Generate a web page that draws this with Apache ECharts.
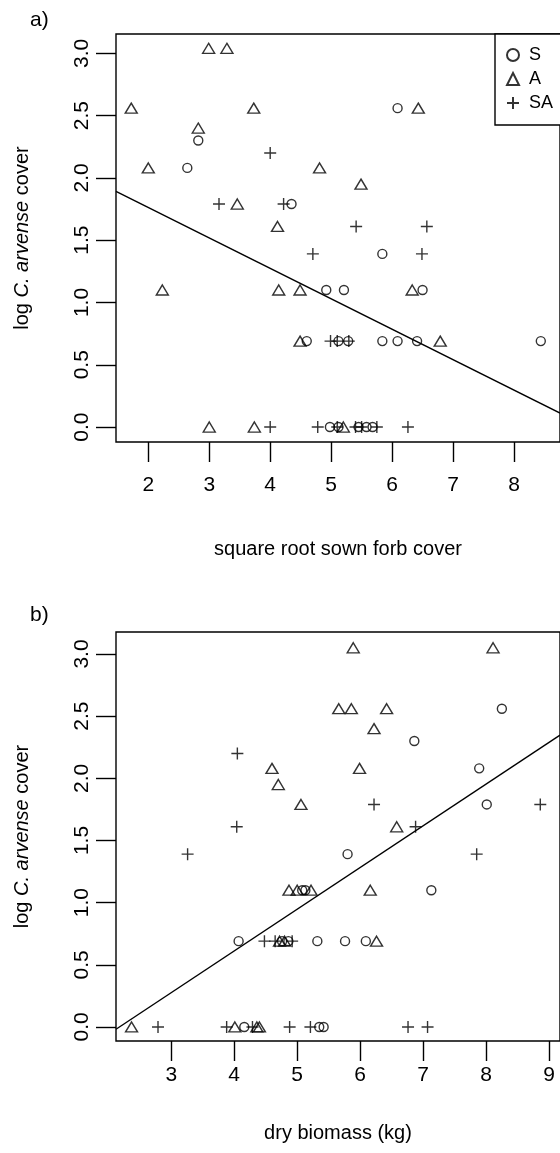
<!DOCTYPE html>
<html>
<head>
<meta charset="utf-8">
<script src="https://cdn.jsdelivr.net/npm/echarts@6/dist/echarts.min.js"></script>
<style>
html, body { margin: 0; padding: 0; background: #fff; }
#chart { width: 560px; height: 1153px; }
</style>
</head>
<body>
<div id="chart"></div>
<script>
// panel a: square root sown forb cover vs log C. arvense cover
const aS = [[2.82,2.30],[2.64,2.08],[4.35,1.79],[6.09,2.56],[5.84,1.39],[4.92,1.10],[5.21,1.10],[6.50,1.10],
  [4.60,0.69],[5.12,0.69],[5.28,0.69],[5.84,0.69],[6.09,0.69],[6.41,0.69],[8.44,0.69],
  [4.98,0],[5.12,0],[5.45,0],[5.58,0],[5.68,0]];
const aA = [[1.72,2.56],[2.99,3.04],[3.29,3.04],[3.73,2.56],[2.82,2.40],[2.00,2.08],[3.46,1.79],[2.23,1.10],
  [3.00,0],[3.74,0],[4.12,1.61],[4.14,1.10],[4.49,1.10],[4.81,2.08],[5.49,1.95],[6.43,2.56],[6.33,1.10],
  [4.49,0.69],[6.79,0.69],[5.20,0]];
const aSA = [[4.00,2.20],[3.16,1.79],[4.22,1.79],[5.41,1.61],[6.57,1.61],[4.70,1.39],[6.49,1.39],
  [4.99,0.69],[5.10,0.69],[5.29,0.69],[4.00,0],[4.78,0],[5.10,0],[5.40,0],[5.50,0],[5.75,0],[6.26,0]];
const fitA = [2.252, -0.2444]; // intercept, slope

// panel b: dry biomass (kg) vs log C. arvense cover
const bS = [[8.25,2.56],[6.86,2.30],[7.89,2.08],[8.01,1.79],[5.80,1.39],[7.13,1.10],[5.08,1.10],[5.13,1.10],
  [4.07,0.69],[4.76,0.69],[4.86,0.69],[5.32,0.69],[5.76,0.69],[6.09,0.69],[4.16,0],[5.35,0],[5.42,0]];
const bA = [[5.89,3.05],[8.11,3.05],[5.66,2.56],[5.86,2.56],[6.42,2.56],[6.22,2.40],[4.60,2.08],[5.99,2.08],
  [4.70,1.95],[5.06,1.79],[6.58,1.61],[6.16,1.10],[4.87,1.10],[5.00,1.10],[5.22,1.10],[4.72,0.69],
  [4.80,0.69],[6.26,0.69],[2.37,0],[4.01,0],[4.36,0],[4.40,0]];
const bSA = [[4.05,2.20],[6.22,1.79],[8.86,1.79],[4.04,1.61],[6.88,1.61],[3.26,1.39],[7.85,1.39],
  [4.48,0.69],[4.65,0.69],[4.92,0.69],[2.79,0],[3.88,0],[4.29,0],[4.88,0],[5.21,0],[6.76,0],[7.07,0]];
const fitB = [-0.731, 0.3356];

const xTicksA = [2, 3, 4, 5, 6, 7, 8];
const xTicksB = [3, 4, 5, 6, 7, 8, 9];
const yTicks = [0, 0.5, 1, 1.5, 2, 2.5, 3];
const groups = ['S', 'A', 'SA'];

const xRangeA = [1.47, 8.755];
const xRangeB = [2.123, 9.173];
const yRangeA = [-0.12, 3.155];
const yRangeB = [-0.113, 3.177];

const FONT = 'Liberation Sans';
const marks = {
  S: { symbol: 'circle', size: 9 },
  A: { symbol: 'triangle', size: [12, 10] },
  SA: { symbol: 'path://M0,6L12,6M6,0L6,12', size: 12 }
};

function pts(name, data, i) {
  return {
    type: 'scatter', name: name, xAxisIndex: i, yAxisIndex: i, data: data,
    symbol: marks[name].symbol, symbolSize: marks[name].size,
    itemStyle: { color: 'rgba(0,0,0,0)', borderColor: '#000', borderWidth: 1.4 },
    silent: true
  };
}

function fitLine(fit, range, i) {
  return {
    type: 'line', xAxisIndex: i, yAxisIndex: i, showSymbol: false, silent: true,
    lineStyle: { color: '#000', width: 1.4 },
    data: range.map(function (x) { return [x, fit[0] + fit[1] * x]; })
  };
}

function xAxis(i, range, ticks, title, margin, gap) {
  return {
    type: 'value', gridIndex: i, min: range[0], max: range[1],
    axisLine: { show: false, onZero: false },
    splitLine: { show: false },
    axisTick: { show: true, inside: false, length: 20, customValues: ticks,
      lineStyle: { color: '#000', width: 1.4 } },
    axisLabel: { customValues: ticks, margin: margin, color: '#000', fontSize: 21, fontFamily: FONT },
    name: title, nameLocation: 'middle', nameGap: gap,
    nameTextStyle: { color: '#000', fontSize: 20, fontFamily: FONT }
  };
}

function yAxis(i, range) {
  return {
    type: 'value', gridIndex: i, min: range[0], max: range[1],
    axisLine: { show: false, onZero: false },
    splitLine: { show: false },
    axisTick: { show: true, inside: false, length: 20, customValues: yTicks,
      lineStyle: { color: '#000', width: 1.4 } },
    axisLabel: { customValues: yTicks, rotate: 90, margin: 23, color: '#000', fontSize: 21,
      fontFamily: FONT, formatter: function (v) { return v.toFixed(1); } },
    name: '{n|log }{i|C. arvense}{n| cover}', nameLocation: 'middle', nameRotate: 90, nameGap: 84,
    nameTextStyle: {
      rich: {
        n: { color: '#000', fontSize: 20, fontFamily: FONT },
        i: { color: '#000', fontSize: 20, fontFamily: FONT, fontStyle: 'italic' }
      }
    }
  };
}

const chart = echarts.init(document.getElementById('chart'), null, { renderer: 'canvas' });
chart.setOption({
  animation: false,
  backgroundColor: '#fff',
  grid: [
    { left: 116, top: 34, width: 450, height: 408, show: true, borderColor: '#000', borderWidth: 1.4 },
    { left: 116, top: 632, width: 450, height: 409, show: true, borderColor: '#000', borderWidth: 1.4 }
  ],
  xAxis: [
    xAxis(0, xRangeA, xTicksA, 'square root sown forb cover', 33, 97),
    xAxis(1, xRangeB, xTicksB, 'dry biomass (kg)', 24, 82)
  ],
  yAxis: [yAxis(0, yRangeA), yAxis(1, yRangeB)],
  legend: {
    data: groups, orient: 'vertical', left: 495, top: 34, selectedMode: false,
    padding: [12, 40, 13, 11], itemGap: 6, itemWidth: 12, itemHeight: 12,
    borderColor: '#000', borderWidth: 1.4, backgroundColor: '#fff',
    textStyle: { color: '#000', fontSize: 18, fontFamily: FONT, padding: [0, 0, 0, 5] }
  },
  graphic: [
    { type: 'text', left: 30, top: 10, style: { text: 'a)', fontSize: 21, fontFamily: FONT, fill: '#000' } },
    { type: 'text', left: 30, top: 605, style: { text: 'b)', fontSize: 21, fontFamily: FONT, fill: '#000' } }
  ],
  series: [
    fitLine(fitA, xRangeA, 0),
    pts('S', aS, 0), pts('A', aA, 0), pts('SA', aSA, 0),
    fitLine(fitB, xRangeB, 1),
    pts('S', bS, 1), pts('A', bA, 1), pts('SA', bSA, 1)
  ]
});
</script>
</body>
</html>
